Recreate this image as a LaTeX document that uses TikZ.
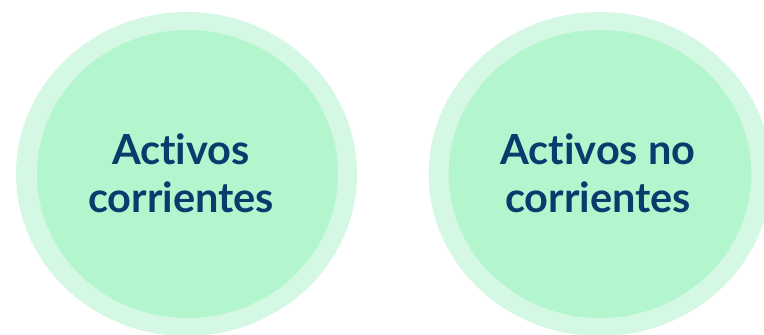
\documentclass[tikz,border=0pt]{standalone}
\usepackage{fontspec}
\setmainfont{Lato}[Ligatures={NoCommon,NoRare}]
\definecolor{outerg}{HTML}{D4F8E3}
\definecolor{innerg}{HTML}{B3F6CD}
\definecolor{navy}{HTML}{0B3A6C}
\begin{document}
\begin{tikzpicture}[x=1pt,y=1pt,
  ring/.style={fill=outerg,draw=none},
  disc/.style={fill=innerg,draw=none},
  lbl/.style={text=navy,font=\fontsize{41.5}{48}\selectfont\bfseries,align=center}]
\useasboundingbox (0,0) rectangle (764,335);
\begin{scope}
\clip (0,0) rectangle (764,335);
\fill[ring] (186.5,161) ellipse [x radius=170.5,y radius=162];
\fill[disc] (187.5,161) ellipse [x radius=150.5,y radius=144];
\fill[ring] (600,161) ellipse [x radius=171.3,y radius=162];
\fill[disc] (600,161) ellipse [x radius=151.3,y radius=144];
\end{scope}
\node[lbl] (a) at (181,162) {Activos\\corrientes};
\node[lbl] (b) at (598,162) {Activos no\\corrientes};
\end{tikzpicture}
\end{document}
